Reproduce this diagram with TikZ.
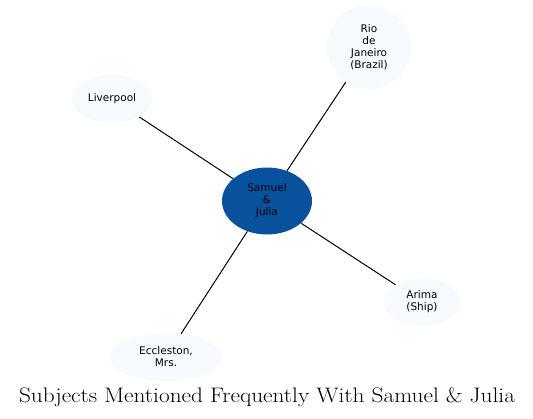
\documentclass[tikz,border=0pt]{standalone}
\usepackage{xcolor}
\usepackage{fontspec}
\usepackage{tikz}
\usetikzlibrary{shapes.geometric, positioning}
\newfontfamily\labelfont{DejaVu Sans}
\definecolor{hubblue}{RGB}{8,81,156}
\definecolor{topicblue}{RGB}{247,251,255}

\begin{document}
\begin{tikzpicture}[
    x=1pt, y=-1pt,
    hub/.style={ellipse, fill=hubblue, minimum width=90pt, minimum height=67pt, inner sep=0pt, font=\labelfont\fontsize{10.5}{12}\selectfont, align=center},
    topic/.style={ellipse, fill=topicblue, inner sep=0pt, font=\labelfont\fontsize{10.5}{12}\selectfont, align=center},
    link/.style={draw=black, line width=1pt},
]
    \useasboundingbox (0,0) rectangle (533,418);

    % centre and subjects
    \node[hub] (samuel) at (267,201) {Samuel\\\&\\Julia};

    \node[topic, minimum width=84pt, minimum height=84pt] (rio) at (369,47) {Rio\\de\\Janeiro\\(Brazil)};
    \node[topic, minimum width=81pt, minimum height=48pt] (liverpool) at (112,99) {Liverpool};
    \node[topic, minimum width=77pt, minimum height=47pt] (arima) at (422,302) {Arima\\(Ship)};
    \node[topic, minimum width=112pt, minimum height=48pt] (eccleston) at (166,357) {Eccleston,\\Mrs.};

    % links
    \draw[link] (samuel) -- (rio);
    \draw[link] (samuel) -- (liverpool);
    \draw[link] (samuel) -- (arima);
    \draw[link] (samuel) -- (eccleston);

    \node[anchor=base, font=\fontsize{21}{24}\selectfont] (title) at (267,402) {\scalebox{1.11}[1]{Subjects Mentioned Frequently With Samuel \& Julia}};
\end{tikzpicture}
\end{document}
